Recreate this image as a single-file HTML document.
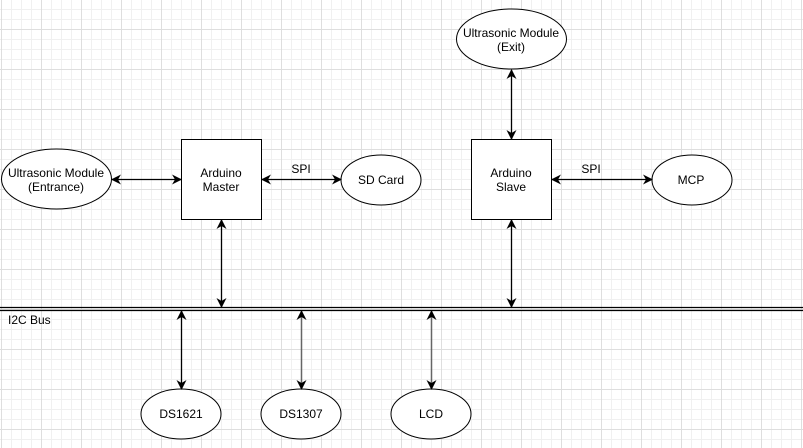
<!DOCTYPE html>
<html><head><meta charset="utf-8"><style>
html,body{margin:0;padding:0;background:#fff;width:803px;height:448px;overflow:hidden}
svg{display:block}
text{font-family:"Liberation Sans",Arial,sans-serif;font-size:12px;fill:#000}
</style></head><body>
<svg width="803" height="448" viewBox="0 0 803 448" xmlns="http://www.w3.org/2000/svg">
<defs>
<pattern id="minor" width="10" height="10" patternUnits="userSpaceOnUse" x="1" y="9">
<path d="M0 0.5H10M0.5 0V10" stroke="#f0f0f0" stroke-width="1" fill="none"/>
</pattern>
<pattern id="major" width="40" height="40" patternUnits="userSpaceOnUse" x="1" y="29">
<path d="M0 0.5H40M0.5 0V40" stroke="#dedede" stroke-width="1" fill="none"/>
</pattern>
<marker id="a" markerWidth="10" markerHeight="10" refX="9" refY="5" orient="auto-start-reverse" markerUnits="userSpaceOnUse">
<path d="M0 0L10 5L0 10L3 5Z" fill="#000"/>
</marker>
<marker id="g" markerWidth="10" markerHeight="10" refX="9" refY="5" orient="auto-start-reverse" markerUnits="userSpaceOnUse">
<path d="M0 0L10 5L0 10L3 5Z" fill="#000"/>
</marker>
</defs>
<rect width="803" height="448" fill="url(#minor)"/>
<rect width="803" height="448" fill="url(#major)"/>
<g fill="#fff" stroke="#000" stroke-width="1">
<ellipse cx="56.5" cy="179" rx="55" ry="30"/>
<rect x="181.5" y="139.5" width="80" height="80"/>
<ellipse cx="381" cy="180" rx="40" ry="25"/>
<ellipse cx="511.5" cy="39" rx="55" ry="30"/>
<rect x="471.5" y="139.5" width="80" height="80"/>
<ellipse cx="692" cy="180" rx="40" ry="25"/>
<ellipse cx="181" cy="414" rx="40" ry="25"/>
<ellipse cx="301" cy="414" rx="40" ry="25"/>
<ellipse cx="431" cy="414" rx="40" ry="25"/>
</g>
<g stroke="#000" stroke-width="1.3" fill="none">
<line x1="0" y1="307.5" x2="803" y2="307.5"/>
<line x1="0" y1="310.5" x2="803" y2="310.5"/>
</g>
<g stroke="#000" stroke-width="1.3" marker-start="url(#a)" marker-end="url(#a)">
<line x1="112" y1="179.5" x2="181" y2="179.5"/>
<line x1="262" y1="179.5" x2="341" y2="179.5"/>
<line x1="552" y1="179.5" x2="652" y2="179.5"/>
<line x1="511.5" y1="70" x2="511.5" y2="139"/>
<line x1="221.5" y1="220" x2="221.5" y2="307"/>
<line x1="511.5" y1="220" x2="511.5" y2="307"/>
<line x1="181.5" y1="311" x2="181.5" y2="389"/>
</g>
<g stroke="#666" stroke-width="1.5" marker-start="url(#g)" marker-end="url(#g)">
<line x1="301.5" y1="311" x2="301.5" y2="389"/>
<line x1="431.5" y1="311" x2="431.5" y2="389"/>
</g>
<g text-anchor="middle">
<text x="56" y="177">Ultrasonic Module</text>
<text x="56" y="191">(Entrance)</text>
<text x="221" y="177">Arduino</text>
<text x="221" y="191">Master</text>
<text x="301" y="173">SPI</text>
<text x="381" y="184">SD Card</text>
<text x="511" y="37">Ultrasonic Module</text>
<text x="511" y="51">(Exit)</text>
<text x="511" y="177">Arduino</text>
<text x="511" y="191">Slave</text>
<text x="591" y="173">SPI</text>
<text x="691" y="184">MCP</text>
<text x="181" y="418">DS1621</text>
<text x="301" y="418">DS1307</text>
<text x="431" y="418">LCD</text>
</g>
<text x="8" y="324">I2C Bus</text>
</svg>
</body></html>
